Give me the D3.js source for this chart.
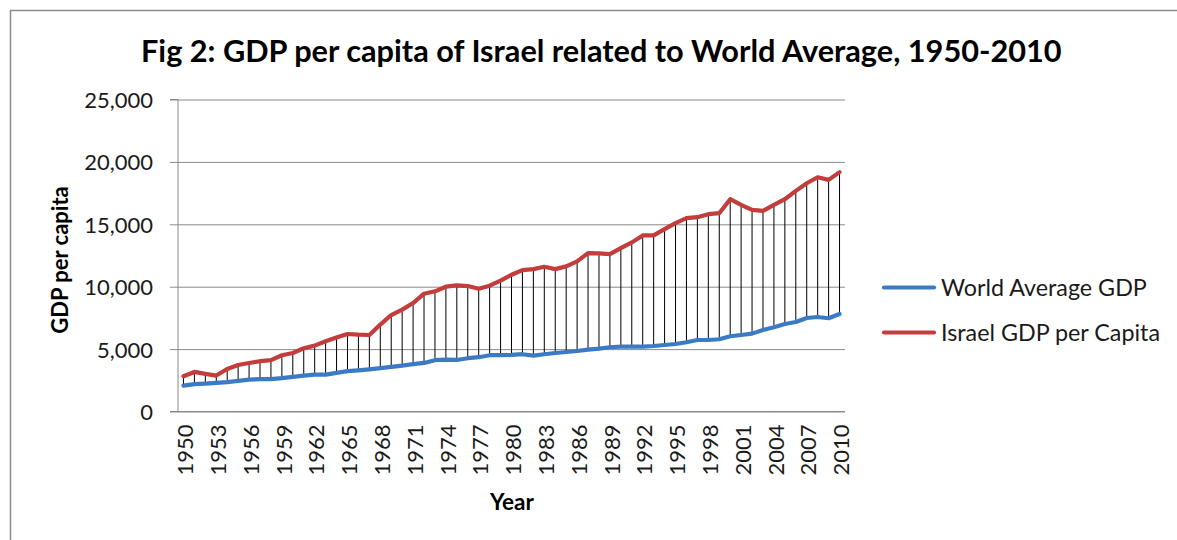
<!DOCTYPE html>
<html>
<head>
<meta charset="utf-8">
<script src="https://cdn.jsdelivr.net/npm/d3@7"></script>
<style>
  html, body { margin: 0; padding: 0; background: #fff; }
  svg { display: block; font-family: Lato, "Open Sans", sans-serif; }
</style>
</head>
<body>
<svg id="chart" width="1177" height="540"></svg>
<script>
// Years on the category axis
const years = [1950,1951,1952,1953,1954,1955,1956,1957,1958,1959,
  1960,1961,1962,1963,1964,1965,1966,1967,1968,1969,
  1970,1971,1972,1973,1974,1975,1976,1977,1978,1979,
  1980,1981,1982,1983,1984,1985,1986,1987,1988,1989,
  1990,1991,1992,1993,1994,1995,1996,1997,1998,1999,
  2000,2001,2002,2003,2004,2005,2006,2007,2008,2009,2010];

// World average GDP per capita
const worldGDP = [2080,2190,2240,2290,2350,2450,2560,2590,2590,2670,
  2770,2880,2960,2960,3090,3230,3300,3380,3470,3570,
  3680,3790,3890,4110,4160,4130,4270,4350,4510,4510,
  4530,4590,4480,4590,4690,4770,4850,4960,5040,5150,
  5200,5200,5200,5250,5330,5410,5550,5730,5730,5790,
  6030,6130,6240,6530,6750,7010,7170,7490,7570,7470,7810];

// Israel GDP per capita
const israelGDP = [2820,3170,3010,2880,3410,3730,3890,4030,4110,4510,
  4690,5070,5280,5630,5920,6210,6160,6130,6960,7730,
  8160,8690,9440,9630,10000,10110,10050,9840,10080,10480,
  10960,11330,11410,11600,11410,11630,12030,12690,12670,12610,
  13090,13550,14110,14110,14610,15090,15490,15570,15810,15890,
  17010,16560,16160,16080,16560,17010,17680,18290,18770,18560,19180];

const yTicks = [0, 5000, 10000, 15000, 20000, 25000];
const xTickYears = years.filter((d, i) => i % 3 === 0);

const seriesNames = ["World Average GDP", "Israel GDP per Capita"];
const seriesColors = ["#3b7bc6", "#c23d3b"];

const titleText = "Fig 2: GDP per capita of Israel related to World Average, 1950-2010";
const xTitle = "Year";
const yTitle = "GDP per capita";

const svg = d3.select("#chart");

// Outer chart frame
svg.append("rect")
  .attr("x", 10.5).attr("y", 10.5)
  .attr("width", 1200).attr("height", 600)
  .attr("fill", "none").attr("stroke", "#8c8c8c").attr("stroke-width", 1.5);

const plot = { left: 178, right: 845, top: 99.5, bottom: 411.5 };

const x = d3.scalePoint().domain(years).range([plot.left, plot.right]).padding(0.5);
const y = d3.scaleLinear().domain([0, 25000]).range([plot.bottom, plot.top]);

// Horizontal gridlines
svg.append("g")
  .attr("transform", `translate(${plot.left},0)`)
  .call(d3.axisLeft(y).tickValues(yTicks).tickSize(-(plot.right - plot.left)).tickFormat(""))
  .call(g => g.select(".domain").remove())
  .call(g => g.selectAll("line").attr("stroke", "#8a8a8a").attr("stroke-width", 1));

// Y axis with outside tick marks and labels
const yAxis = svg.append("g")
  .attr("transform", `translate(${plot.left},0)`)
  .call(d3.axisLeft(y).tickValues(yTicks).tickSize(8).tickPadding(17)
    .tickFormat(d3.format(",")));
yAxis.select(".domain").attr("stroke", "#8a8a8a").attr("d", `M-8,${plot.top}H0V${plot.bottom}H-8`);
yAxis.selectAll("line").attr("stroke", "#8a8a8a");
yAxis.selectAll("text")
  .attr("font-family", "Lato, 'Open Sans', sans-serif")
  .attr("font-size", 22).attr("fill", "#1a1a1a").attr("dy", "0.36em");

// X axis line and rotated year labels
const xAxis = svg.append("g")
  .attr("transform", `translate(0,${plot.bottom})`)
  .call(d3.axisBottom(x).tickValues(xTickYears).tickSize(0).tickPadding(0));
xAxis.select(".domain").attr("stroke", "#8a8a8a").attr("d", `M${plot.left - 8},0H${plot.right}`);
xAxis.selectAll(".tick text")
  .attr("font-family", "Lato, 'Open Sans', sans-serif")
  .attr("font-size", 22).attr("fill", "#1a1a1a")
  .attr("text-anchor", "end")
  .attr("transform", "translate(0,13) rotate(-90)")
  .attr("x", 0).attr("y", 0).attr("dy", "0.42em");

// High-low connectors between the two series
svg.append("g")
  .selectAll("line")
  .data(years)
  .join("line")
  .attr("x1", d => x(d)).attr("x2", d => x(d))
  .attr("y1", (d, i) => y(worldGDP[i]))
  .attr("y2", (d, i) => y(israelGDP[i]))
  .attr("stroke", "#000").attr("stroke-width", 1);

// Series lines
const line = d3.line().x((d, i) => x(years[i])).y(d => y(d));
[worldGDP, israelGDP].forEach((vals, k) => {
  svg.append("path")
    .datum(vals)
    .attr("d", line)
    .attr("fill", "none")
    .attr("stroke", seriesColors[k])
    .attr("stroke-width", 4.2)
    .attr("stroke-linejoin", "round")
    .attr("stroke-linecap", "round");
});

// Legend
const legend = svg.append("g");
seriesNames.forEach((name, k) => {
  const ly = 287.5 + k * 45;
  legend.append("line")
    .attr("x1", 884).attr("x2", 934).attr("y1", ly).attr("y2", ly)
    .attr("stroke", seriesColors[k]).attr("stroke-width", 4.2).attr("stroke-linecap", "round");
  legend.append("text")
    .attr("x", 941).attr("y", ly).attr("dy", "0.36em")
    .attr("font-size", 23.3).attr("fill", "#1a1a1a")
    .text(name);
});

// Title, sized to span its line
const title = svg.append("text")
  .attr("x", 141).attr("y", 62)
  .attr("font-weight", "bold").attr("font-size", 28).attr("fill", "#000")
  .text(titleText);
const tw = title.node().getComputedTextLength();
title.attr("font-size", 28 * 921 / tw);

// Axis titles
svg.append("text")
  .attr("x", 512).attr("y", 509.5).attr("text-anchor", "middle")
  .attr("font-weight", "bold").attr("font-size", 22.5).attr("fill", "#000")
  .text(xTitle);
svg.append("text")
  .attr("transform", "translate(68,260) rotate(-90)")
  .attr("text-anchor", "middle")
  .attr("font-weight", "bold").attr("font-size", 22).attr("fill", "#000")
  .text(yTitle);
</script>
</body>
</html>
